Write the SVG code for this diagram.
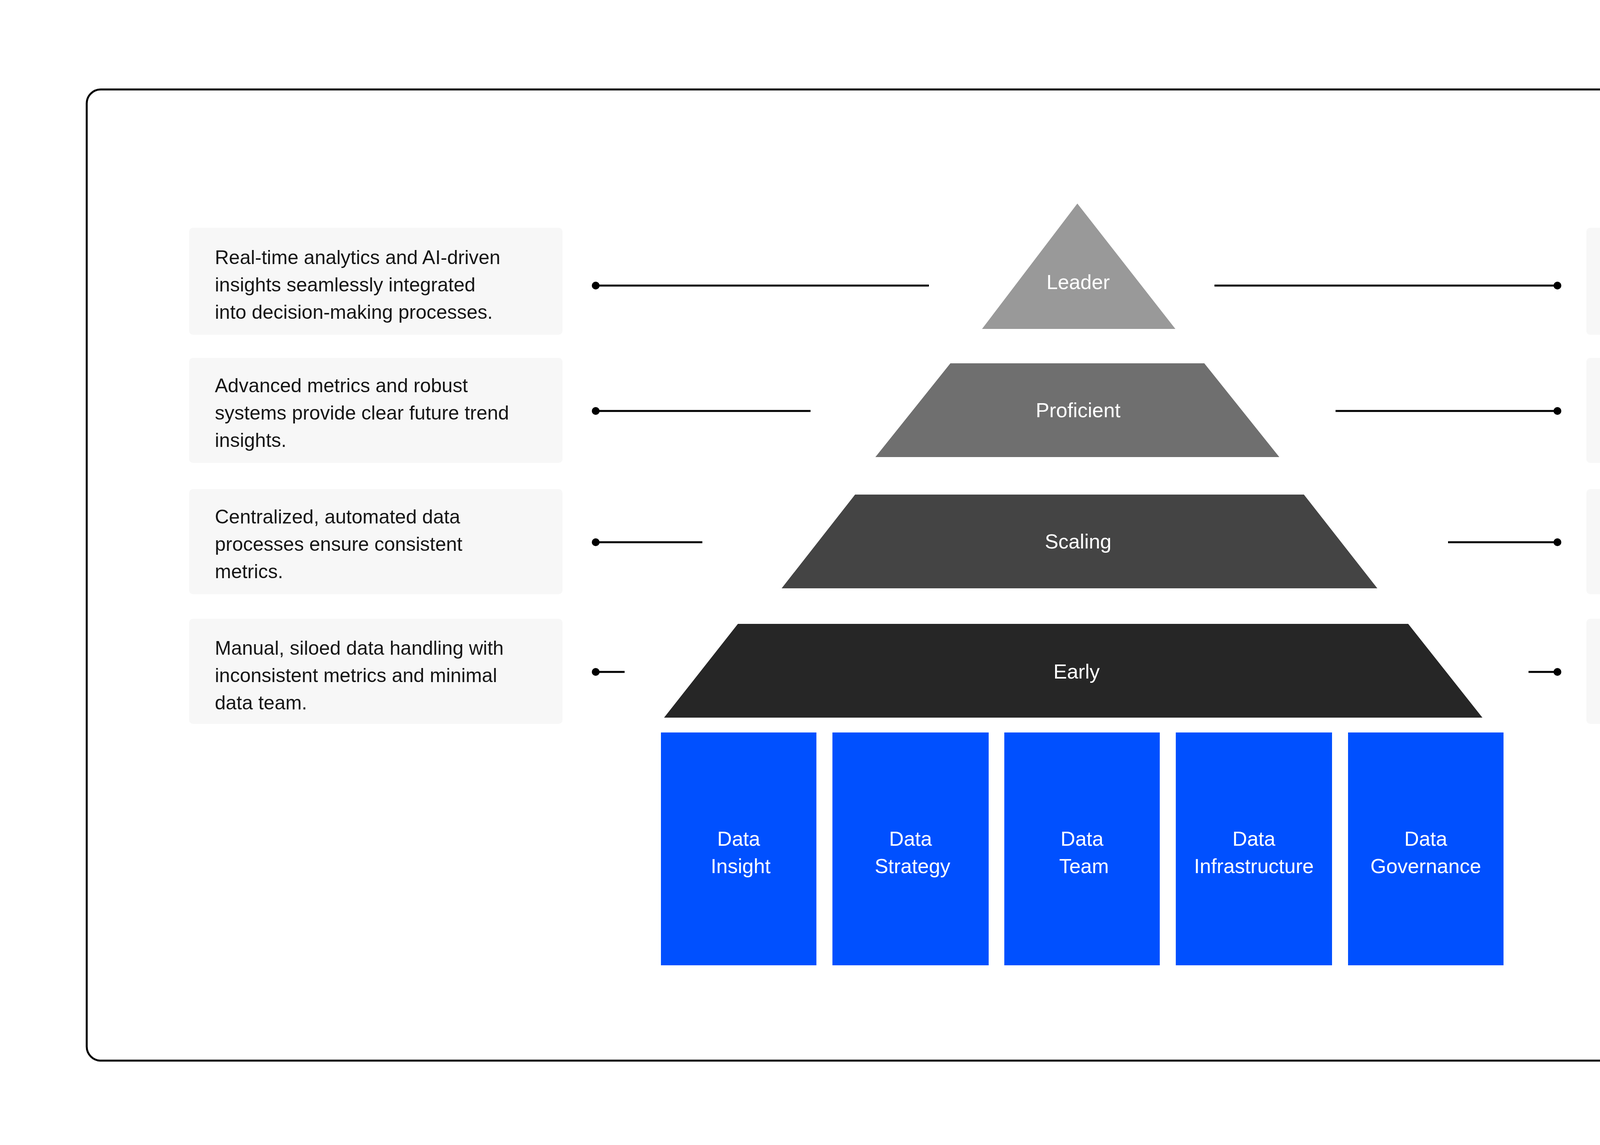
<svg xmlns="http://www.w3.org/2000/svg" width="5760" height="2931" viewBox="0 0 5760 2931">
<style>
.box{fill:#f7f7f7}
.t{font-family:"Liberation Sans",Arial,sans-serif;font-size:50px;fill:#161616}
.w{font-family:"Liberation Sans",Arial,sans-serif;font-size:52px;fill:#ffffff;text-anchor:middle}
.ln{stroke:#000;stroke-width:5;fill:none}
.blue{fill:#0050ff}
</style>
<rect width="5760" height="2931" fill="#fff"/>
<rect x="222" y="229" width="5345" height="2486" rx="36" fill="none" stroke="#000" stroke-width="5"/>
<g id="left-boxes">
<g id="l1"><rect class="box" x="484" y="583" width="956" height="274" rx="10"/><text class="t" x="550" y="676">Real-time analytics and AI-driven<tspan x="550" dy="70">insights seamlessly integrated</tspan><tspan x="550" dy="70">into decision-making processes.</tspan></text></g>
<g id="l2"><rect class="box" x="484" y="916" width="956" height="269" rx="10"/><text class="t" x="550" y="1004">Advanced metrics and robust<tspan x="550" dy="70">systems provide clear future trend</tspan><tspan x="550" dy="70">insights.</tspan></text></g>
<g id="l3"><rect class="box" x="484" y="1252" width="956" height="269" rx="10"/><text class="t" x="550" y="1340">Centralized, automated data<tspan x="550" dy="70">processes ensure consistent</tspan><tspan x="550" dy="70">metrics.</tspan></text></g>
<g id="l4"><rect class="box" x="484" y="1584" width="956" height="269" rx="10"/><text class="t" x="550" y="1676">Manual, siloed data handling with<tspan x="550" dy="70">inconsistent metrics and minimal</tspan><tspan x="550" dy="70">data team.</tspan></text></g>
</g>
<g id="right-boxes">
<g id="r1"><rect class="box" x="4061" y="583" width="1185" height="274" rx="10"/><text class="t" x="4124" y="676">Data informs and triggers actions manually<tspan x="4124" dy="70">or via automation and can affect changes.</tspan><tspan x="4124" dy="70">E.g. AI and Machine Learning.</tspan></text></g>
<g id="r2"><rect class="box" x="4061" y="916" width="1185" height="269" rx="10"/><text class="t" x="4124" y="1004">Predictive analysis - the ability to accurately<tspan x="4124" dy="70">predict and forecast into the future. E.g.</tspan><tspan x="4124" dy="70">Data Science and statistical modeling.</tspan></text></g>
<g id="r3"><rect class="box" x="4061" y="1252" width="1351" height="269" rx="10"/><text class="t" x="4124" y="1340">Getting consistent metrics in near real-time with<tspan x="4124" dy="70">corollary metrics to determine causality. E.g. Intra-</tspan><tspan x="4124" dy="70">hour, day, week metric creation and reporting.</tspan></text></g>
<g id="r4"><rect class="box" x="4061" y="1584" width="952" height="269" rx="10"/><text class="t" x="4124" y="1676">Accurate visibility into historic<tspan x="4124" dy="70">metrics and actions. E.g. KPI</tspan><tspan x="4124" dy="70">defined and built.</tspan></text></g>
</g>
<g id="pyramid">
<g id="leader"><polygon points="2758,521 3009,842 2514,842" fill="#999999"/><text class="w" x="2760" y="740">Leader</text></g>
<g id="proficient"><polygon points="2433,930 3083,930 3275,1170 2241,1170" fill="#6f6f6f"/><text class="w" x="2760" y="1068">Proficient</text></g>
<g id="scaling"><polygon points="2189,1266 3338,1266 3526,1506 2001,1506" fill="#444444"/><text class="w" x="2760" y="1404">Scaling</text></g>
<g id="early"><polygon points="1889,1597 3605,1597 3795,1837 1700,1837" fill="#262626"/><text class="w" x="2756" y="1737">Early</text></g>
</g>
<g id="pillars">
<g id="p1"><rect class="blue" x="1692" y="1875" width="398" height="596"/><text class="w" x="1891" y="2165">Data<tspan x="1896" dy="70">Insight</tspan></text></g>
<g id="p2"><rect class="blue" x="2131" y="1875" width="400" height="596"/><text class="w" x="2331" y="2165">Data<tspan x="2336" dy="70">Strategy</tspan></text></g>
<g id="p3"><rect class="blue" x="2571" y="1875" width="398" height="596"/><text class="w" x="2770" y="2165">Data<tspan x="2775" dy="70">Team</tspan></text></g>
<g id="p4"><rect class="blue" x="3010" y="1875" width="400" height="596"/><text class="w" x="3210" y="2165">Data<tspan x="3210" dy="70">Infrastructure</tspan></text></g>
<g id="p5"><rect class="blue" x="3451" y="1875" width="398" height="596"/><text class="w" x="3650" y="2165">Data<tspan x="3650" dy="70">Governance</tspan></text></g>
</g>
<g id="connectors">
<path class="ln" d="M1525 731H2378M1525 1052H2075M1525 1388H1798M1525 1720H1599"/>
<path class="ln" d="M3109 731H3987M3419 1052H3987M3707 1388H3987M3913 1720H3987"/>
<g fill="#000">
<circle cx="1525" cy="731" r="10"/><circle cx="1525" cy="1052" r="10"/><circle cx="1525" cy="1388" r="10"/><circle cx="1525" cy="1720" r="10"/>
<circle cx="3987" cy="731" r="10"/><circle cx="3987" cy="1052" r="10"/><circle cx="3987" cy="1388" r="10"/><circle cx="3987" cy="1720" r="10"/>
</g>
</g>
</svg>
